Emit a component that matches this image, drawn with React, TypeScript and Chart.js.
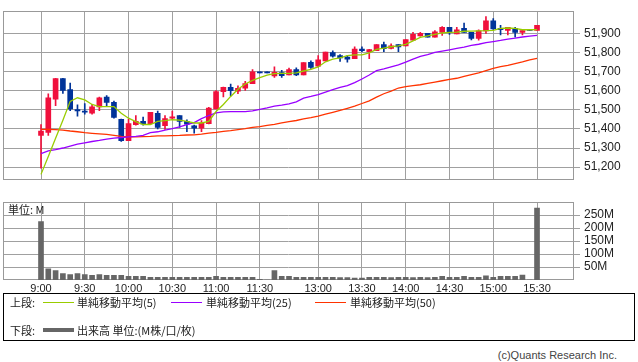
import React, { useEffect, useRef } from "react";
import { Chart, registerables } from "chart.js";

Chart.register(...registerables);

// ---- data ----
const TIME_TICKS = [0, 6, 12, 18, 24, 30, 38, 44, 50, 56, 62, 68];
const TIME_LABELS = ["9:00", "9:30", "10:00", "10:30", "11:00", "11:30", "13:00", "13:30", "14:00", "14:30", "15:00", "15:30"];
const PRICE_TICKS = [51200, 51300, 51400, 51500, 51600, 51700, 51800, 51900];
const VOLUME_TICKS = [50, 100, 150, 200, 250];

const OPEN = [51366, 51381, 51555, 51663, 51606, 51501, 51493, 51482, 51515, 51566, 51539, 51450, 51339, 51422, 51439, 51428, 51482, 51417, 51456, 51470, 51440, 51416, 51404, 51428, 51505, 51595, 51617, 51598, 51613, 51637, 51695, 51695, 51677, 51695, 51682, 51710, 51682, 51748, 51728, 51756, 51799, 51784, 51776, 51767, 51818, 51804, 51810, 51841, 51821, 51841, 51834, 51864, 51887, 51900, 51880, 51905, 51931, 51897, 51926, 51905, 51874, 51913, 51965, 51926, 51915, 51926, 51905, 51915, 51915];
const HIGH = [51422, 51583, 51665, 51665, 51640, 51526, 51533, 51529, 51567, 51575, 51545, 51451, 51452, 51470, 51462, 51487, 51493, 51470, 51493, 51470, 51448, 51420, 51443, 51513, 51601, 51619, 51635, 51626, 51649, 51711, 51695, 51695, 51725, 51706, 51718, 51720, 51747, 51756, 51784, 51802, 51808, 51789, 51784, 51830, 51829, 51816, 51841, 51855, 51845, 51841, 51867, 51905, 51905, 51900, 51914, 51936, 51931, 51931, 51954, 51905, 51919, 51988, 51978, 51942, 51931, 51931, 51915, 51915, 51942];
const LOW = [51194, 51366, 51521, 51586, 51496, 51466, 51477, 51477, 51496, 51521, 51456, 51335, 51338, 51419, 51420, 51426, 51400, 51397, 51451, 51408, 51386, 51377, 51385, 51426, 51505, 51568, 51573, 51584, 51601, 51637, 51693, 51693, 51670, 51669, 51682, 51678, 51682, 51717, 51725, 51756, 51776, 51753, 51749, 51767, 51804, 51767, 51810, 51804, 51819, 51804, 51834, 51864, 51885, 51880, 51880, 51889, 51895, 51897, 51905, 51866, 51864, 51900, 51920, 51892, 51892, 51880, 51892, 51915, 51915];
const CLOSE = [51389, 51562, 51663, 51601, 51505, 51494, 51487, 51515, 51562, 51539, 51460, 51338, 51428, 51439, 51426, 51487, 51408, 51454, 51463, 51439, 51425, 51404, 51431, 51509, 51595, 51617, 51600, 51612, 51637, 51699, 51693, 51693, 51696, 51679, 51710, 51683, 51747, 51722, 51762, 51802, 51781, 51771, 51765, 51818, 51809, 51815, 51841, 51820, 51835, 51829, 51867, 51895, 51900, 51880, 51908, 51931, 51905, 51919, 51905, 51874, 51913, 51965, 51923, 51919, 51931, 51905, 51915, 51915, 51942];

const MA5 = [51162, 51256, 51351, 51445, 51544, 51563, 51552, 51528, 51517, 51517, 51517, 51482, 51456, 51438, 51423, 51423, 51439, 51443, 51448, 51446, 51439, 51431, 51431, 51439, 51491, 51528, 51570, 51607, 51635, 51654, 51668, 51682, 51689, 51691, 51691, 51693, 51703, 51712, 51724, 51751, 51765, 51772, 51784, 51787, 51787, 51798, 51816, 51823, 51830, 51834, 51842, 51861, 51879, 51887, 51895, 51902, 51905, 51907, 51911, 51912, 51913, 51914, 51916, 51926, 51928, 51926, 51919, 51919, 51920];
const MA25 = [51271, 51285, 51292, 51300, 51310, 51320, 51327, 51334, 51340, 51347, 51352, 51355, 51358, 51361, 51366, 51380, 51385, 51394, 51401, 51410, 51422, 51433, 51454, 51470, 51484, 51489, 51490, 51490, 51490, 51494, 51502, 51510, 51519, 51524, 51531, 51542, 51561, 51570, 51580, 51593, 51605, 51617, 51626, 51642, 51661, 51682, 51705, 51714, 51725, 51735, 51749, 51765, 51779, 51789, 51800, 51807, 51814, 51821, 51828, 51837, 51843, 51851, 51857, 51863, 51870, 51875, 51881, 51886, 51889];
const MA50 = [51397, 51397, 51396, 51394, 51389, 51385, 51380, 51377, 51374, 51371, 51366, 51361, 51358, 51358, 51360, 51361, 51363, 51364, 51365, 51366, 51368, 51369, 51373, 51378, 51382, 51387, 51391, 51396, 51401, 51408, 51412, 51418, 51424, 51431, 51438, 51444, 51452, 51459, 51467, 51477, 51487, 51497, 51508, 51519, 51533, 51547, 51566, 51584, 51598, 51614, 51621, 51626, 51631, 51638, 51645, 51652, 51659, 51665, 51675, 51684, 51693, 51705, 51717, 51726, 51733, 51742, 51751, 51761, 51769];

const VOLUME = [225, 43, 36, 25, 21, 25, 21, 18, 21, 18, 18, 18, 14, 14, 14, 10, 10, 10, 10, 10, 10, 10, 10, 10, 14, 10, 10, 10, 10, 10, 3, 0, 36, 14, 14, 10, 10, 10, 10, 10, 10, 9, 9, 7, 7, 10, 10, 10, 9, 10, 10, 9, 10, 9, 10, 14, 10, 10, 14, 10, 10, 16, 10, 14, 14, 14, 19, 0, 277];

// ---- styles ----
const UP = "#f0103c";
const DOWN = "#003399";
const GRID = "#a0a0a0";
const FRAME = "#999999";
const TEXT = "#222222";
const X_MIN = -5.21;
const X_MAX = 73.07;
const AXIS_W = 64;

const framePlugin = {
  id: "frame",
  beforeDatasetsDraw(chart: any) {
    const { ctx, chartArea: a } = chart;
    ctx.save();
    ctx.strokeStyle = FRAME;
    ctx.lineWidth = 1;
    ctx.strokeRect(Math.round(a.left) + 0.5, Math.round(a.top) + 0.5, Math.round(a.right - a.left) - 1, Math.round(a.bottom - a.top) - 1);
    ctx.restore();
  },
};

const timeTicks = (s: any) => {
  s.ticks = TIME_TICKS.map((v) => ({ value: v }));
};

export default function App() {
  const mainRef = useRef<HTMLCanvasElement | null>(null);
  const volRef = useRef<HTMLCanvasElement | null>(null);

  useEffect(() => {
    document.body.style.margin = "0";
    const idx = OPEN.map((_, i) => i);
    const colors = idx.map((i) => (CLOSE[i] > OPEN[i] ? UP : DOWN));

    const main = new Chart(mainRef.current as HTMLCanvasElement, {
      type: "bar",
      data: {
        datasets: [
          { type: "line", data: idx.map((i) => ({ x: i, y: MA5[i] })), borderColor: "#99cc00", borderWidth: 1.3, pointRadius: 0, tension: 0, order: 0 } as any,
          { type: "line", data: idx.map((i) => ({ x: i, y: MA25[i] })), borderColor: "#9900ff", borderWidth: 1.3, pointRadius: 0, tension: 0, order: 1 } as any,
          { type: "line", data: idx.map((i) => ({ x: i, y: MA50[i] })), borderColor: "#ff3300", borderWidth: 1.3, pointRadius: 0, tension: 0, order: 2 } as any,
          { type: "bar", data: idx.map((i) => ({ x: i, y: [OPEN[i], CLOSE[i]] })), backgroundColor: colors, borderWidth: 0, barThickness: 5, minBarLength: 1, grouped: false, order: 3 } as any,
          { type: "bar", data: idx.map((i) => ({ x: i, y: [LOW[i], HIGH[i]] })), backgroundColor: colors, borderWidth: 0, barThickness: 1, minBarLength: 1, grouped: false, order: 4 } as any,
        ],
      },
      options: {
        responsive: false,
        animation: false,
        events: [],
        layout: { padding: { left: 3, top: 0, right: 0, bottom: 1 } },
        plugins: { legend: { display: false }, tooltip: { enabled: false } },
        scales: {
          x: {
            type: "linear",
            offset: false,
            min: X_MIN,
            max: X_MAX,
            afterBuildTicks: timeTicks,
            afterFit: (s: any) => { s.height = 0; },
            ticks: { display: false },
            grid: { color: GRID, drawTicks: false, lineWidth: 1, offset: false },
            border: { display: false },
          },
          y: {
            type: "linear",
            position: "right",
            min: 51133.6,
            max: 52016,
            afterBuildTicks: (s: any) => { s.ticks = PRICE_TICKS.map((v) => ({ value: v })); },
            afterFit: (s: any) => { s.width = AXIS_W; },
            ticks: {
              callback: (v: any) => Number(v).toLocaleString("en-US"),
              font: { family: "'Liberation Sans', Arial, sans-serif", size: 12 },
              color: TEXT,
              padding: 4,
            },
            grid: { color: GRID, tickLength: 6, drawTicks: true, lineWidth: 1 },
            border: { display: false },
          },
        },
      } as any,
      plugins: [framePlugin],
    });

    const vol = new Chart(volRef.current as HTMLCanvasElement, {
      type: "bar",
      data: {
        datasets: [
          { data: idx.map((i) => ({ x: i, y: VOLUME[i] })), backgroundColor: "#666666", borderWidth: 0, barThickness: 5 } as any,
        ],
      },
      options: {
        responsive: false,
        animation: false,
        events: [],
        layout: { padding: { left: 3, top: 10, right: 0, bottom: 0 } },
        plugins: { legend: { display: false }, tooltip: { enabled: false } },
        scales: {
          x: {
            type: "linear",
            offset: false,
            min: X_MIN,
            max: X_MAX,
            afterBuildTicks: timeTicks,
            afterFit: (s: any) => { s.height = 16; },
            ticks: {
              autoSkip: false,
              maxRotation: 0,
              callback: (v: any) => TIME_LABELS[TIME_TICKS.indexOf(Number(v))] ?? "",
              font: { family: "'Liberation Sans', Arial, sans-serif", size: 11 },
              color: TEXT,
              padding: 2,
            },
            grid: { color: GRID, drawTicks: false, lineWidth: 1, offset: false },
            border: { display: false },
          },
          y: {
            type: "linear",
            position: "right",
            min: 0,
            max: 300,
            afterBuildTicks: (s: any) => { s.ticks = VOLUME_TICKS.map((v) => ({ value: v })); },
            afterFit: (s: any) => { s.width = AXIS_W; },
            ticks: {
              callback: (v: any) => v + "M",
              font: { family: "'Liberation Sans', Arial, sans-serif", size: 12 },
              color: TEXT,
              padding: 4,
            },
            grid: { color: GRID, tickLength: 6, drawTicks: true, lineWidth: 1 },
            border: { display: false },
          },
        },
      } as any,
      plugins: [framePlugin],
    });

    return () => {
      main.destroy();
      vol.destroy();
    };
  }, []);

  const jp = "'Noto Sans CJK JP', sans-serif";
  const txt = (left: number, top: number, s: string, extra: any = {}) => (
    <div style={{ position: "absolute", left, top, font: `11px ${jp}`, color: TEXT, lineHeight: "14px", whiteSpace: "nowrap", ...extra }}>{s}</div>
  );
  const line = (left: number, top: number, width: number, h: number, color: string) => (
    <div style={{ position: "absolute", left, top, width, height: h, background: color }} />
  );

  return (
    <div style={{ position: "absolute", left: 0, top: 0, width: 638, height: 362, background: "#fff", overflow: "hidden" }}>
      <canvas ref={mainRef} width={638} height={191} style={{ position: "absolute", left: 0, top: 0, display: "block" }} />
      <canvas ref={volRef} width={638} height={105} style={{ position: "absolute", left: 0, top: 191, display: "block" }} />
      {txt(8, 202, "単位: M")}
      <div style={{ position: "absolute", left: 3, top: 293, width: 632, height: 48, border: "1px solid #000", boxSizing: "border-box" }} />
      {txt(10, 295, "上段:")}
      {line(43, 302, 31, 1, "#99cc00")}
      {txt(77, 295, "単純移動平均(5)")}
      {line(171, 302, 31, 1, "#9900ff")}
      {txt(206, 295, "単純移動平均(25)")}
      {line(315, 302, 31, 1, "#ff3300")}
      {txt(350, 295, "単純移動平均(50)")}
      {txt(10, 323, "下段:")}
      {line(43, 328, 31, 4, "#666666")}
      {txt(77, 323, "出来高 単位:(M株/口/枚)")}
      <div style={{ position: "absolute", right: 21, top: 348, font: "11px 'Liberation Sans', Arial, sans-serif", color: "#444", lineHeight: "14px", whiteSpace: "nowrap" }}>(c)Quants Research Inc.</div>
    </div>
  );
}
